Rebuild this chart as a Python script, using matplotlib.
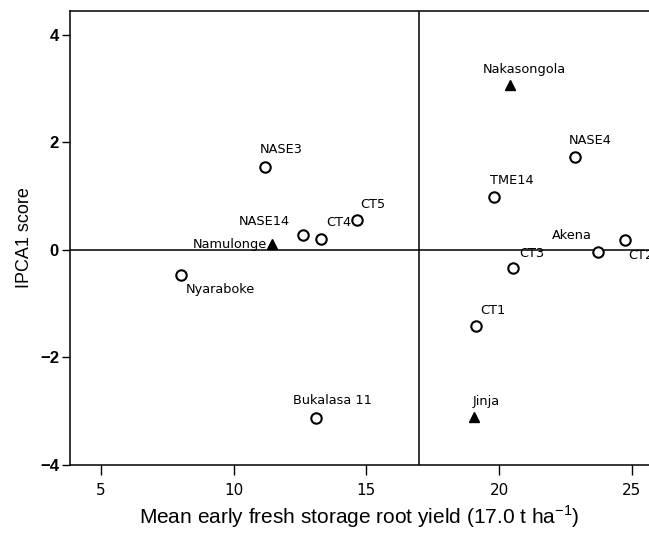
import numpy as np
import matplotlib.pyplot as plt

# genotypes (open circles)
genotypes = ['NASE3', 'NASE14', 'CT4', 'CT5', 'Nyaraboke', 'Bukalasa 11',
             'TME14', 'NASE4', 'CT3', 'Akena', 'CT2', 'CT1']
gen_yield = [11.19, 12.6, 13.3, 14.65, 8.02, 13.11,
             19.8, 22.86, 20.53, 23.72, 24.74, 19.14]
gen_ipca = [1.54, 0.27, 0.21, 0.55, -0.47, -3.12,
            0.98, 1.72, -0.34, -0.04, 0.18, -1.42]

# environments (filled triangles)
environments = ['Namulonge', 'Nakasongola', 'Jinja']
env_yield = [11.44, 20.43, 19.04]
env_ipca = [0.10, 3.06, -3.11]

grand_mean = 17.0

# label placement: (dx, dy) in pixels and alignment
label_pos = {
    'NASE3': (-6, 17, 'left'), 'NASE14': (-13, 14, 'right'), 'CT4': (5, 16, 'left'),
    'CT5': (3, 16, 'left'), 'Nyaraboke': (5, -14, 'left'), 'Bukalasa 11': (-23, 17, 'left'),
    'TME14': (-4, 17, 'left'), 'NASE4': (-6, 17, 'left'), 'CT3': (6, 15, 'left'),
    'Akena': (-6, 16, 'right'), 'CT2': (3, -15, 'left'), 'CT1': (4, 16, 'left'),
    'Namulonge': (-5, 0, 'right'), 'Nakasongola': (-28, 16, 'left'), 'Jinja': (-1, 16, 'left'),
}

fig = plt.figure(figsize=(6.49, 5.37), dpi=100)
ax = fig.add_axes([70/649, 72/537, 579/649, 454/537])

ax.axhline(0, color='black', lw=1.1, zorder=1)
ax.axvline(grand_mean, color='black', lw=1.1, zorder=1)

ax.plot(gen_yield, gen_ipca, 'o', mfc='white', mec='black', mew=1.5, ms=7.5, zorder=3)
ax.plot(env_yield, env_ipca, '^', color='black', ms=7.5, zorder=3)

names = genotypes + environments
xs = gen_yield + env_yield
ys = gen_ipca + env_ipca
for n, x, y in zip(names, xs, ys):
    dx, dy, ha = label_pos[n]
    ax.annotate(n, (x, y), xytext=(dx, dy), textcoords='offset pixels',
                ha=ha, va='center', fontsize=9.3, family='DejaVu Sans', zorder=4)

ax.set_xlim(3.83, 25.65)
ax.set_ylim(-4, 4.44)
ax.set_xticks([5, 10, 15, 20, 25])
ax.set_yticks([-4, -2, 0, 2, 4])
ax.set_yticklabels(['\u22124', '\u22122', '0', '2', '4'], fontweight='bold',
                   fontsize=12, family='Liberation Sans')
ax.set_xticklabels(['5', '10', '15', '20', '25'], fontsize=11, family='DejaVu Sans')
ax.tick_params(axis='x', length=7, width=1, pad=6)
ax.tick_params(axis='y', length=6, width=1, pad=2)
ax.spines['right'].set_visible(False)
for s in ['top', 'left', 'bottom']:
    ax.spines[s].set_linewidth(1.1)

ax.set_xlabel('Mean early fresh storage root yield (17.0 t ha$^{\\mathregular{-1}}$)',
              fontsize=15, family='Liberation Sans', labelpad=4)
ax.set_ylabel('IPCA1 score', fontsize=13, family='Liberation Sans', labelpad=5)

fig.savefig('out.png', dpi=100)
